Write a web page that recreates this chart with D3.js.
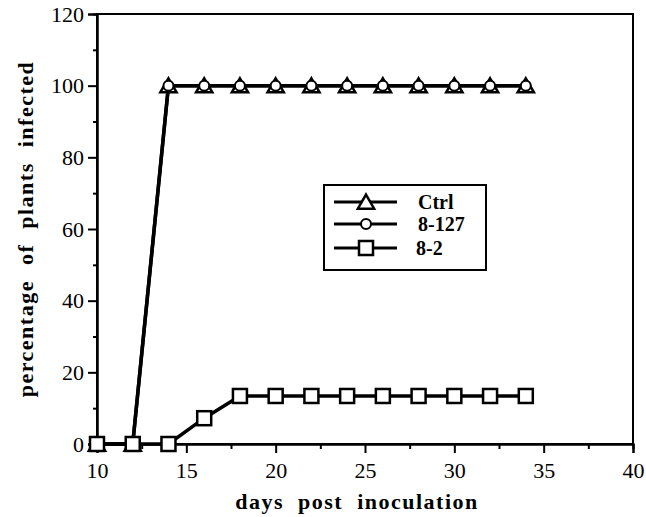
<!DOCTYPE html>
<html>
<head>
<meta charset="utf-8">
<script src="https://cdn.jsdelivr.net/npm/d3@7"></script>
<style>
  body { margin: 0; background: #fff; }
  text { font-family: "Liberation Serif", "Times New Roman", serif; fill: #000; }
</style>
</head>
<body>
<div id="chart"></div>
<script>
var days = [10, 12, 14, 16, 18, 20, 22, 24, 26, 28, 30, 32, 34];
var ctrl = [0, 0, 100, 100, 100, 100, 100, 100, 100, 100, 100, 100, 100];
var line8127 = [0, 0, 100, 100, 100, 100, 100, 100, 100, 100, 100, 100, 100];
var line82 = [0, 0, 0, 7.2, 13.4, 13.4, 13.4, 13.4, 13.4, 13.4, 13.4, 13.4, 13.4];
var seriesNames = ["Ctrl", "8-127", "8-2"];
var xTicks = [10, 15, 20, 25, 30, 35, 40];
var yTicks = [0, 20, 40, 60, 80, 100, 120];

var width = 646, height = 517;
var margin = { top: 14, right: 13, bottom: 73, left: 97 };

var svg = d3.select("#chart").append("svg")
  .attr("width", width)
  .attr("height", height);

var x = d3.scaleLinear().domain([10, 40]).range([margin.left, width - margin.right]);
var y = d3.scaleLinear().domain([0, 120]).range([height - margin.bottom, margin.top]);

// frame
svg.append("rect")
  .attr("x", x(10)).attr("y", y(120))
  .attr("width", x(40) - x(10)).attr("height", y(0) - y(120))
  .attr("fill", "none").attr("stroke", "#000").attr("stroke-width", 2);

// y axis: major ticks outward, small minor ticks between
svg.append("g").attr("transform", "translate(" + x(10) + ",0)")
  .call(d3.axisLeft(y).tickValues(yTicks).tickSize(9).tickPadding(4));
svg.append("g").attr("transform", "translate(" + x(10) + ",0)")
  .call(d3.axisLeft(y).tickValues(d3.range(10, 120, 20)).tickSize(4).tickFormat(""));

// x axis
svg.append("g").attr("transform", "translate(0," + y(0) + ")")
  .call(d3.axisBottom(x).tickValues(xTicks).tickSize(9).tickPadding(9));
svg.append("g").attr("transform", "translate(0," + y(0) + ")")
  .call(d3.axisBottom(x).tickValues(d3.range(12.5, 40, 5)).tickSize(5).tickFormat(""));

svg.selectAll(".domain").attr("stroke-width", 2);
svg.selectAll(".tick line").attr("stroke-width", 2);
svg.selectAll(".tick text")
  .style("font-family", "'Liberation Serif', serif")
  .style("font-size", "22px");

// axis titles
svg.append("text")
  .attr("x", 357)
  .attr("y", 509)
  .attr("text-anchor", "middle")
  .style("font-size", "22px")
  .style("font-weight", "bold")
  .style("word-spacing", "7px")
  .style("letter-spacing", "1.5px")
  .text("days post inoculation");

svg.append("text")
  .attr("transform", "translate(33,229) rotate(-90)")
  .attr("text-anchor", "middle")
  .style("font-size", "22px")
  .style("font-weight", "bold")
  .style("word-spacing", "8px")
  .style("letter-spacing", "1.5px")
  .text("percentage of plants infected");

var line = d3.line()
  .x(function(d) { return x(d[0]); })
  .y(function(d) { return y(d[1]); });

function pairs(vals) {
  return days.map(function(d, i) { return [d, vals[i]]; });
}

var triPath = d3.symbol().type(d3.symbolTriangle).size(115);

function drawTriangle(g, px, py) {
  g.append("path")
    .attr("d", triPath())
    .attr("transform", "translate(" + px + "," + (py + 2) + ")")
    .attr("fill", "#fff").attr("stroke", "#000").attr("stroke-width", 2.5);
}
function drawCircle(g, px, py) {
  g.append("circle").attr("cx", px).attr("cy", py).attr("r", 5)
    .attr("fill", "#fff").attr("stroke", "#000").attr("stroke-width", 2);
}
function drawSquare(g, px, py) {
  g.append("rect").attr("x", px - 7).attr("y", py - 7).attr("width", 14).attr("height", 14)
    .attr("fill", "#fff").attr("stroke", "#000").attr("stroke-width", 2.5);
}

// lines
[ctrl, line8127, line82].forEach(function(vals) {
  svg.append("path").datum(pairs(vals))
    .attr("d", line)
    .attr("fill", "none").attr("stroke", "#000").attr("stroke-width", 3.5);
});

var marks = svg.append("g");
pairs(ctrl).forEach(function(p) { drawTriangle(marks, x(p[0]), y(p[1])); });
pairs(line8127).forEach(function(p) { drawCircle(marks, x(p[0]), y(p[1])); });
pairs(line82).forEach(function(p) { drawSquare(marks, x(p[0]), y(p[1])); });

// legend
var legend = svg.append("g");
legend.append("rect")
  .attr("x", 324).attr("y", 185).attr("width", 162).attr("height", 85)
  .attr("fill", "#fff").attr("stroke", "#000").attr("stroke-width", 2);

var legendY = [202, 224, 248];
var drawers = [drawTriangle, drawCircle, drawSquare];
seriesNames.forEach(function(name, i) {
  legend.append("line")
    .attr("x1", 334).attr("x2", 397)
    .attr("y1", legendY[i]).attr("y2", legendY[i])
    .attr("stroke", "#000").attr("stroke-width", 3);
  drawers[i](legend, 366, legendY[i]);
  legend.append("text")
    .attr("x", i === 2 ? 416 : 418)
    .attr("y", legendY[i] + 7)
    .style("font-size", "20px")
    .style("font-weight", "bold")
    .text(name);
});
</script>
</body>
</html>
